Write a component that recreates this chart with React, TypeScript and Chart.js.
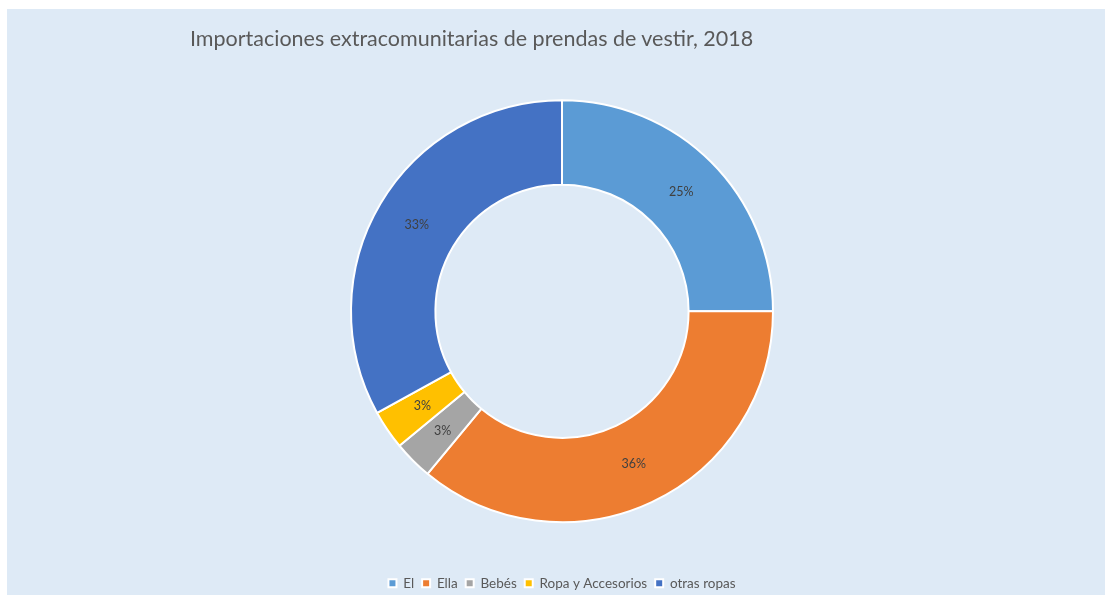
import React, { useEffect, useRef } from "react";
import { Chart, registerables } from "chart.js";

Chart.register(...registerables);

const title = "Importaciones extracomunitarias de prendas de vestir, 2018";
const categories = ["El", "Ella", "Bebés", "Ropa y Accesorios", "otras ropas"];
const shares = [25, 36, 3, 3, 33];
const colors = ["#5B9BD5", "#ED7D31", "#A5A5A5", "#FFC000", "#4472C4"];

const FONT = "Lato, 'Open Sans', sans-serif";

const labelPlugin = {
  id: "sliceLabels",
  afterDatasetsDraw(chart: any) {
    const ctx = chart.ctx;
    const meta = chart.getDatasetMeta(0);
    const total = shares.reduce((a, b) => a + b, 0);
    ctx.save();
    ctx.font = `12.5px ${FONT}`;
    ctx.fillStyle = "#404040";
    ctx.textAlign = "center";
    ctx.textBaseline = "middle";
    meta.data.forEach((arc: any, i: number) => {
      const p = arc.tooltipPosition();
      const pct = Math.round((shares[i] / total) * 100);
      ctx.fillText(pct + "%", p.x, p.y);
    });
    ctx.restore();
  },
};

export default function App() {
  const ref = useRef<HTMLCanvasElement>(null);
  useEffect(() => {
    if (!ref.current) return;
    const chart = new Chart(ref.current, {
      type: "doughnut",
      data: {
        labels: categories,
        datasets: [
          {
            data: shares,
            backgroundColor: colors,
            borderColor: "#FFFFFF",
            borderWidth: 2,
          },
        ],
      },
      options: {
        responsive: false,
        animation: false,
        radius: 211,
        cutout: "60%",
        layout: { padding: { left: 12, right: 0, top: 45, bottom: -5 } },
        plugins: {
          title: { display: false },
          tooltip: { enabled: false },
          legend: {
            display: true,
            position: "bottom",
            labels: {
              boxWidth: 8,
              boxHeight: 8,
              padding: 8,
              color: "#595959",
              font: { family: FONT, size: 13.5 },
            },
          },
        },
      } as any,
      plugins: [labelPlugin],
    });
    return () => chart.destroy();
  }, []);

  return (
    <div
      style={{
        position: "absolute",
        left: 7,
        top: 9,
        width: 1098,
        height: 586,
        background: "#DEEAF6",
      }}
    >
      <div
        style={{
          position: "absolute",
          left: 183,
          top: 16,
          fontFamily: FONT,
          fontSize: 21.5,
          color: "#595959",
          whiteSpace: "nowrap",
        }}
      >
        {title}
      </div>
      <canvas ref={ref} width={1098} height={586} style={{ display: "block" }} />
    </div>
  );
}
